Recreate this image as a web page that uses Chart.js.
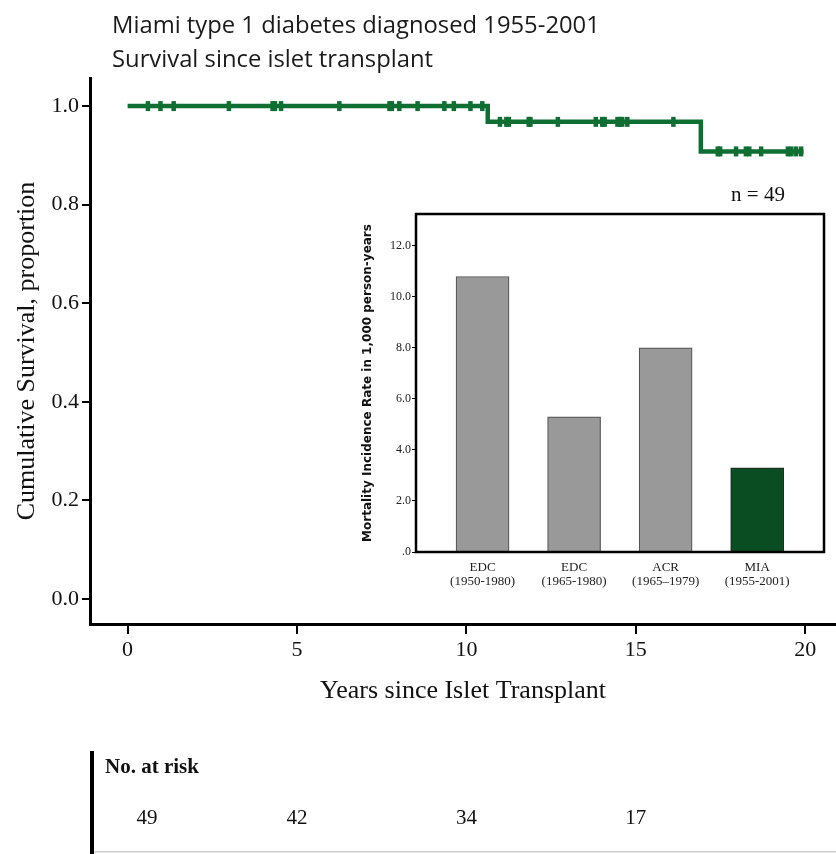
<!DOCTYPE html>
<html>
<head>
<meta charset="utf-8">
<script src="https://cdn.jsdelivr.net/npm/chart.js@4"></script>
<style>
  html, body { margin: 0; padding: 0; background: #fff; overflow: hidden; }
  #wrap { position: relative; width: 836px; height: 854px; }
  #survChart { position: absolute; left: 0; top: 0; }
  #insetChart { position: absolute; left: 355px; top: 180px; }
</style>
</head>
<body>
<div id="wrap">
  <canvas id="survChart" width="836" height="854"></canvas>
  <canvas id="insetChart" width="475" height="420"></canvas>
</div>
<script>
// Kaplan-Meier curve: each step = (year of death, survival after it)
const stepYears = [0, 10.63, 16.92, 19.95];
const stepSurvival = [1.0, 0.968, 0.908, 0.908];
// censored patients, years since transplant
const censorYears = [0.6, 0.97, 1.36, 2.99, 4.28, 4.35, 4.53, 6.25, 7.73, 7.8, 8.02, 8.56, 9.35, 9.63, 10.12, 10.47,
  10.99, 11.18, 11.25, 11.84, 11.89, 12.7, 13.82, 14.01, 14.08, 14.46, 14.53, 14.6, 14.75, 16.11,
  17.42, 17.49, 17.96, 18.25, 18.35, 18.7, 19.49, 19.59, 19.73, 19.88];
const xTicks = [0, 5, 10, 15, 20];
const yTicks = [0, 0.2, 0.4, 0.6, 0.8, 1.0];
const riskYears = [0, 5, 10, 15];
const riskCounts = [49, 42, 34, 17];
const titleLines = ['Miami type 1 diabetes diagnosed 1955-2001', 'Survival since islet transplant'];

// inset bar chart
const insetLabels = [['EDC', '(1950-1980)'], ['EDC', '(1965-1980)'], ['ACR', '(1965\u20131979)'], ['MIA', '(1955-2001)']];
const insetRates = [10.8, 5.3, 8.0, 3.3];
const insetTicks = [0, 2, 4, 6, 8, 10, 12];

const green = '#0f6f33';
const serif = 'Liberation Serif';

// survival level at a given time (for placing censor marks on the curve)
function survAt(t) {
  let s = stepSurvival[0];
  for (let i = 0; i < stepYears.length; i++) {
    if (stepYears[i] <= t) s = stepSurvival[i];
  }
  return s;
}

// title lines and the "No. at risk" table
const extras = {
  id: 'extras',
  afterDraw(chart) {
    const ctx = chart.ctx;
    const xs = chart.scales.x;
    ctx.save();
    ctx.fillStyle = '#1a1a1a';
    ctx.textAlign = 'left';
    ctx.textBaseline = 'alphabetic';
    ctx.font = '23.8px "Open Sans"';
    ctx.fillText(titleLines[0], 112, 33);
    ctx.fillText(titleLines[1], 112, 67);

    // at-risk table
    ctx.fillStyle = '#000';
    ctx.fillRect(90, 751, 4, 103);
    ctx.fillStyle = '#ccc';
    ctx.fillRect(94, 851, 742, 1.5);
    ctx.fillStyle = '#111';
    ctx.font = 'bold 21px "Liberation Serif"';
    ctx.fillText('No. at risk', 105, 773);
    ctx.font = '21px "Liberation Serif"';
    ctx.textAlign = 'center';
    riskYears.forEach((t, i) => {
      // first column sits a bit right of the axis start, as in the source
      const x = Math.max(xs.getPixelForValue(t), 147);
      ctx.fillText(String(riskCounts[i]), x, 824);
    });
    ctx.restore();
  }
};

new Chart(document.getElementById('survChart'), {
  type: 'line',
  data: {
    datasets: [
      {
        data: stepYears.map((x, i) => ({ x: x, y: stepSurvival[i] })),
        stepped: true,
        borderColor: green,
        borderWidth: 4.5,
        pointRadius: 0,
        fill: false
      },
      {
        data: censorYears.map(x => ({ x: x, y: survAt(x) })),
        showLine: false,
        pointStyle: 'line',
        rotation: 90,
        pointRadius: 5,
        pointBorderWidth: 4.5,
        borderColor: green,
        backgroundColor: green
      }
    ]
  },
  options: {
    responsive: false,
    animation: false,
    layout: { autoPadding: false, padding: { top: 78, bottom: 147, left: 0, right: 0 } },
    plugins: { legend: { display: false }, tooltip: { enabled: false } },
    scales: {
      x: {
        type: 'linear',
        min: -1.11,
        max: 20.91,
        afterFit: s => { s.height = 83; },
        afterBuildTicks: s => { s.ticks = xTicks.map(v => ({ value: v })); },
        grid: { drawOnChartArea: false, drawTicks: true, tickLength: 10, color: '#000', lineWidth: 2 },
        border: { display: true, color: '#000', width: 3 },
        ticks: { font: { family: serif, size: 22 }, color: '#111', padding: 3, maxRotation: 0 },
        title: {
          display: true, text: 'Years since Islet Transplant',
          font: { family: serif, size: 26 }, color: '#111', padding: { top: 0, bottom: 0 }
        }
      },
      y: {
        min: -0.051,
        max: 1.057,
        afterFit: s => { s.width = 90; },
        afterBuildTicks: s => { s.ticks = yTicks.map(v => ({ value: v })); },
        grid: { drawOnChartArea: false, drawTicks: true, tickLength: 8, color: '#000', lineWidth: 2 },
        border: { display: true, color: '#000', width: 3 },
        ticks: { font: { family: serif, size: 22 }, color: '#111', padding: 3, callback: v => v.toFixed(1) },
        title: {
          display: true, text: 'Cumulative Survival, proportion',
          font: { family: serif, size: 26 }, color: '#111', padding: { top: 12, bottom: 0 }
        }
      }
    }
  },
  plugins: [extras]
});

// frame around the inset and the "n = 49" note
const insetFrame = {
  id: 'insetFrame',
  afterDraw(chart) {
    const ctx = chart.ctx;
    const a = chart.chartArea;
    ctx.save();
    ctx.strokeStyle = '#000';
    ctx.lineWidth = 2.5;
    ctx.strokeRect(a.left, a.top, a.right - a.left, a.bottom - a.top);
    ctx.fillStyle = '#111';
    ctx.font = '21px "Liberation Serif"';
    ctx.textAlign = 'center';
    ctx.fillText('n = 49', a.right - 66, a.top - 13);
    ctx.restore();
  }
};

new Chart(document.getElementById('insetChart'), {
  type: 'bar',
  data: {
    datasets: [{
      data: insetRates.map((y, i) => ({ x: i, y: y })),
      backgroundColor: ['#999999', '#999999', '#999999', '#0a4d22'],
      borderColor: ['#555555', '#555555', '#555555', '#1e2e22'],
      borderWidth: 1.2,
      barThickness: 53
    }]
  },
  options: {
    responsive: false,
    animation: false,
    layout: { autoPadding: false, padding: { top: 34, right: 6, bottom: 8, left: 0 } },
    plugins: { legend: { display: false }, tooltip: { enabled: false } },
    scales: {
      x: {
        type: 'linear',
        offset: false,
        min: -0.727,
        max: 3.73,
        afterFit: s => { s.height = 40; },
        afterBuildTicks: s => { s.ticks = insetLabels.map((l, i) => ({ value: i })); },
        grid: { display: false, offset: false },
        border: { display: false },
        ticks: {
          callback: v => insetLabels[v], autoSkip: false, maxRotation: 0,
          font: { family: serif, size: 13, lineHeight: 1.1 }, color: '#222', padding: 0
        }
      },
      y: {
        min: 0,
        max: 13.25,
        afterFit: s => { s.width = 61; },
        afterBuildTicks: s => { s.ticks = insetTicks.map(v => ({ value: v })); },
        grid: { drawOnChartArea: false, drawTicks: true, tickLength: 4, color: '#000' },
        border: { display: false },
        ticks: {
          callback: v => (v === 0 ? '.0' : v.toFixed(1)),
          font: { family: serif, size: 12 }, color: '#222', padding: 1
        },
        title: {
          display: true, text: 'Mortality Incidence Rate in 1,000 person-years',
          font: { family: 'DejaVu Sans', size: 12, weight: 'bold' }, color: '#111',
          padding: { top: 6, bottom: 0 }
        }
      }
    }
  },
  plugins: [insetFrame]
});
</script>
</body>
</html>
